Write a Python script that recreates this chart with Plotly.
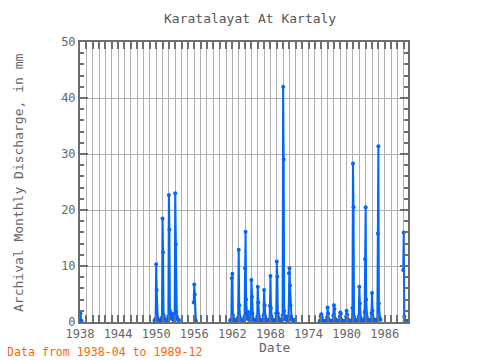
import plotly.graph_objects as go
import pandas as pd

# Monthly discharge segments (mm), each starts at the given month
start_1938 = "1938-04"
q_1938 = [1.8, 1.5, 0.3, 0.1]

start_1950 = "1950-01"
q_1950_1953 = [
    0.3, 0.3, 0.6, 10.3, 5.7, 0.9, 0.5, 0.4, 0.3, 0.3, 0.3, 0.3,
    0.3, 0.3, 0.8, 18.5, 12.4, 1.2, 0.7, 0.5, 0.4, 0.4, 0.4, 0.3,
    0.3, 0.3, 1.0, 22.7, 16.5, 2.0, 1.0, 0.8, 0.6, 1.5, 0.6, 0.4,
    0.4, 0.4, 1.0, 23.0, 13.9, 1.8, 1.0, 0.6, 0.4, 0.4, 0.3,
]

start_1956 = "1956-03"
q_1956 = [3.5, 6.7, 4.9, 0.4, 0.2]

start_1961 = "1961-12"
q_1961_1972 = [
    0.3,
    0.3, 0.3, 7.8, 8.6, 1.2, 0.6, 0.4, 0.3, 0.3, 0.3, 0.3, 0.3,
    0.3, 0.3, 0.8, 12.9, 3.0, 0.8, 0.5, 0.4, 0.4, 0.4, 0.3, 0.3,
    0.3, 0.3, 1.0, 9.6, 16.1, 4.0, 1.5, 0.8, 0.6, 1.8, 0.5, 0.4,
    0.4, 0.4, 1.2, 7.5, 4.5, 1.5, 0.6, 0.4, 0.3, 0.3, 0.3, 0.3,
    0.3, 0.3, 1.0, 6.3, 3.5, 1.0, 0.5, 0.4, 0.3, 0.3, 0.3, 0.3,
    0.3, 0.3, 1.2, 5.7, 3.0, 1.0, 0.5, 0.4, 0.3, 0.3, 0.3, 0.3,
    0.3, 0.3, 2.9, 8.2, 2.5, 1.0, 0.5, 0.4, 0.3, 0.3, 0.3, 0.3,
    0.3, 0.3, 1.5, 10.8, 8.1, 1.5, 0.8, 0.5, 0.4, 0.4, 0.3, 0.3,
    0.3, 0.3, 1.2, 42.0, 29.0, 2.0, 1.0, 0.7, 0.5, 0.4, 1.0, 0.4,
    0.3, 0.3, 8.7, 9.6, 6.5, 3.0, 1.0, 0.5, 0.5, 0.4, 0.3, 0.3,
    0.3, 0.3,
]

start_1976 = "1976-01"
q_1976_1985 = [
    0.2, 0.2, 1.0, 1.4, 0.8, 0.3, 0.2, 0.2, 0.2, 0.2, 0.2, 0.2,
    0.2, 0.2, 0.8, 2.6, 1.5, 0.4, 0.3, 0.2, 0.2, 0.2, 0.2, 0.2,
    0.2, 0.2, 1.2, 3.0, 2.3, 0.6, 0.3, 0.2, 0.2, 0.3, 0.2, 0.2,
    0.2, 0.2, 1.0, 1.7, 1.5, 0.4, 0.2, 0.2, 0.2, 0.2, 0.2, 0.2,
    0.2, 0.2, 0.9, 2.0, 1.3, 0.5, 0.3, 0.2, 0.2, 0.2, 0.2, 0.2,
    0.2, 0.3, 2.5, 28.3, 20.5, 1.0, 0.5, 0.3, 0.3, 0.3, 0.3, 0.3,
    0.3, 0.3, 1.0, 6.3, 3.3, 0.8, 0.4, 0.3, 0.3, 0.3, 0.3, 0.3,
    0.3, 1.8, 11.2, 20.5, 4.0, 1.0, 0.5, 0.4, 0.3, 0.3, 0.3, 0.3,
    0.3, 0.3, 1.5, 5.2, 2.0, 0.6, 0.4, 0.3, 0.3, 0.3, 0.3, 0.3,
    0.3, 0.5, 15.8, 31.4, 3.3, 0.8, 0.5, 0.4,
]

start_1989 = "1989-03"
q_1989 = [9.3, 16.0, 1.0, 0.3, 0.2, 0.2, 0.2, 0.2, 0.2, 0.2]

tick_years = [1938, 1944, 1950, 1956, 1962, 1968, 1974, 1980, 1986]

# Build full monthly series with gaps
months = pd.date_range("1938-04-01", "1989-12-01", freq="MS")
series = pd.Series([None] * len(months), index=months, dtype=object)
for start, vals in [(start_1938, q_1938), (start_1950, q_1950_1953), (start_1956, q_1956),
                    (start_1961, q_1961_1972), (start_1976, q_1976_1985), (start_1989, q_1989)]:
    idx = pd.date_range(start + "-01", periods=len(vals), freq="MS")
    for d, v in zip(idx, vals):
        series[d] = v

blue = "#0066ff"
grid = "#b0b0b0"
axc = "#6e6e6e"
font_fam = "DejaVu Sans Mono"

# page body has an 8px margin; figure coords = page coords - 8
L, R, T, B = 72, 80, 34, 46
PW, PH = 480 - L - R, 360 - T - B

def px(xf):
    return (xf - L) / PW

def py(yf):
    return 1 - (yf - T) / PH

fig = go.Figure()
fig.add_trace(go.Scatter(
    x=list(months), y=list(series.values), mode="lines+markers",
    line=dict(color=blue, width=2), marker=dict(color=blue, size=4),
    connectgaps=False, showlegend=False,
))

fig.update_layout(
    width=480, height=360,
    margin=dict(l=L, r=R, t=T, b=B),
    paper_bgcolor="white", plot_bgcolor="white",
    font=dict(family=font_fam, color="#666666", size=12),
)

fig.update_xaxes(
    type="date",
    range=["1938-04-01", "1989-12-01"],
    tickvals=[f"{y}-04-01" for y in tick_years],
    ticktext=[str(y) for y in tick_years],
    ticks="inside", ticklen=7, tickwidth=2, tickcolor=axc,
    showgrid=True, gridcolor=grid, gridwidth=1,
    minor=dict(dtick="M12", tick0="1938-04-01", ticks="inside", ticklen=7, tickwidth=2,
               tickcolor=axc, showgrid=True, gridcolor=grid, gridwidth=1),
    showline=True, linecolor=axc, linewidth=2, mirror="ticks",
    tickfont=dict(family=font_fam, size=12, color="#666666"),
    zeroline=False,
)
fig.update_yaxes(
    range=[0, 50], dtick=10, tick0=0,
    ticks="inside", ticklen=8, tickwidth=2, tickcolor=axc,
    showgrid=True, gridcolor=grid, gridwidth=1,
    minor=dict(dtick=2, ticks="inside", ticklen=4, tickwidth=2, tickcolor=axc, showgrid=False),
    showline=True, linecolor=axc, linewidth=2, mirror="ticks",
    tickfont=dict(family=font_fam, size=12, color="#666666"),
    zeroline=False,
)

fig.add_annotation(text="Karatalayat At Kartaly", xref="paper", yref="paper",
                   x=px(242), y=py(10), xanchor="center", yanchor="middle",
                   showarrow=False, font=dict(family=font_fam, size=13, color="#555555"))
fig.add_annotation(text="Date", xref="paper", yref="paper",
                   x=px(266), y=py(339), xanchor="center", yanchor="middle",
                   showarrow=False, font=dict(family=font_fam, size=13, color="#666666"))
fig.add_annotation(text="Archival Monthly Discharge, in mm", xref="paper", yref="paper",
                   x=px(10), y=py(175), xanchor="center", yanchor="middle", textangle=-90,
                   showarrow=False, font=dict(family=font_fam, size=13, color="#666666"))
fig.add_annotation(text="Data from 1938-04 to 1989-12", xref="paper", yref="paper",
                   x=px(-3), y=py(344), xanchor="left", yanchor="middle",
                   showarrow=False, font=dict(family=font_fam, size=11.6, color="#ff6600"))

fig.write_html("out.html")
